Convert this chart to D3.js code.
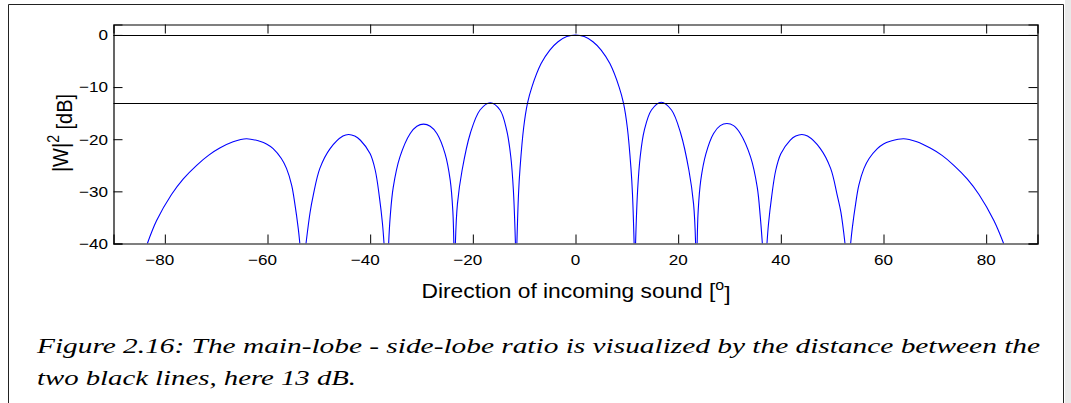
<!doctype html>
<html lang="en">
<head>
    <meta charset="UTF-8">
    <title>Main-lobe / side-lobe ratio</title>
    <script src="https://cdnjs.cloudflare.com/ajax/libs/d3/7.8.5/d3.min.js"></script>
    <style>
        html, body {
            margin: 0;
            padding: 0;
            background: #ffffff;
        }
        svg {
            display: block;
        }
        .tick-label {
            font-family: "Liberation Sans", Arial, Helvetica, sans-serif;
            font-size: 15px;
            fill: #000;
        }
        .axis-title {
            font-family: "Liberation Sans", Arial, Helvetica, sans-serif;
            font-size: 20px;
            fill: #000;
        }
        .caption {
            font-family: "Liberation Serif", "DejaVu Serif", serif;
            font-style: italic;
            font-size: 22px;
            fill: #000;
        }
    </style>
</head>
<body>

<svg id="chart" width="1071" height="403"></svg>

<script>

    // values (angle in degrees, |W|^2 in dB), null = break between lobes
    var angles = [
        -83.4, -81.6, -78.7, -76.4, -73.8, -71.5, -69.3, -66.7, -64.1, -61.5, -60.2, -58.9, -57.3, -56.3, -55.3, -54.7, -54.0, -53.7,
        null,
        -52.5, -51.7, -51.1, -49.8, -47.8, -45.3, -44.2, -43.0, -41.9, -40.0, -39.0, -38.2, -37.6, -37.3,
        null,
        -36.4, -36.1, -35.5, -34.2, -32.2, -30.9, -29.6, -28.3, -27.0, -25.4, -24.4, -23.9, -23.7,
        null,
        -23.4, -23.0, -22.1, -20.5, -18.6, -16.6, -14.7, -13.4, -12.6, -12.1, -11.7,
        null,
        -11.42, -11.1, -10.8, -10.1, -9.35, -8.5, -6.7, -5.0, -3.4, -1.7, 0, 1.7, 3.4, 5.0, 6.7, 8.5, 9.35, 10.1, 10.8, 11.1, 11.42,
        null,
        11.7, 12.1, 12.6, 13.4, 14.8, 16.7, 18.7, 20.5, 22.1, 23.0, 23.4,
        null,
        23.7, 23.9, 24.4, 25.4, 26.9, 28.2, 29.5, 30.8, 32.1, 34.1, 35.4, 36.0, 36.4,
        null,
        37.3, 37.6, 38.2, 39.0, 40.0, 41.8, 42.9, 44.1, 45.2, 47.7, 49.7, 51.0, 51.7, 52.5,
        null,
        53.6, 53.9, 54.6, 55.2, 56.2, 57.2, 58.8, 60.0, 61.3, 63.9, 66.5, 69.1, 71.4, 73.7, 76.3, 78.6, 81.5, 83.4
    ];

    var levels = [
        -40, -35.6, -30.6, -27.6, -25.0, -23.1, -21.7, -20.5, -19.9, -20.4, -20.9, -21.8, -23.7, -25.6, -28.8, -32.2, -37.2, -40,
        null,
        -40, -34.0, -30.8, -25.6, -21.8, -19.4, -19.1, -19.4, -20.2, -22.8, -26.0, -31.1, -36.2, -40,
        null,
        -40, -34.9, -29.2, -23.4, -18.9, -17.5, -17.1, -17.5, -18.9, -22.8, -27.9, -33.7, -40,
        null,
        -40, -32.4, -26.0, -18.9, -14.4, -13.0, -14.4, -18.3, -23.4, -29.8, -40,
        null,
        -40, -30.5, -25.5, -17.8, -13.1, -10.0, -5.5, -2.9, -1.3, -0.3, 0, -0.3, -1.3, -2.9, -5.5, -10.0, -13.1, -17.8, -25.5, -30.5, -40,
        null,
        -40, -29.8, -23.4, -18.3, -14.4, -12.9, -14.4, -18.9, -26.0, -32.4, -40,
        null,
        -40, -33.7, -27.9, -22.8, -18.9, -17.4, -17.0, -17.4, -18.9, -23.4, -29.2, -34.9, -40,
        null,
        -40, -36.2, -31.1, -26.0, -22.8, -20.2, -19.4, -19.1, -19.4, -21.8, -25.6, -30.8, -34.0, -40,
        null,
        -40, -37.2, -32.2, -28.8, -25.6, -23.7, -21.8, -20.9, -20.4, -19.9, -20.5, -21.7, -23.1, -25.0, -27.6, -30.6, -35.6, -40
    ];

    var xTicks = [-80, -60, -40, -20, 0, 20, 40, 60, 80];
    var yTicks = [-40, -30, -20, -10, 0];
    var refLines = [0, -13];      // main-lobe level and first side-lobe level

    var xTitle = 'Direction of incoming sound [';
    var xTitleSup = 'o';
    var yTitle = '|W|';
    var yTitleSup = '2';
    var yTitleUnit = ' [dB]';
    var caption = [
        'Figure 2.16: The main-lobe - side-lobe ratio is visualized by the distance between the',
        'two black lines, here 13 dB.'
    ];

    // the figure in the picture is stretched sideways a little
    var stretch = 1.14;

    var plotL = 113.5, plotR = 1037.5, plotT = 24.5, plotB = 243.5;

    var x = d3.scaleLinear().domain([-90, 90]).range([plotL, plotR]);
    var y = d3.scaleLinear().domain([-40, 2]).range([plotB, plotT]);

    var svg = d3.select('#chart');

    // page frame
    svg.append('rect')
            .attr('x', 1065).attr('y', 0)
            .attr('width', 6).attr('height', 403)
            .attr('fill', '#e9e9e9');

    svg.append('path')
            .attr('d', 'M8.5,410V4.5H1063.5V410')
            .attr('fill', 'none')
            .attr('stroke', '#222')
            .attr('stroke-width', 1);

    // clip for the curve
    svg.append('clipPath').attr('id', 'plot-clip')
            .append('rect')
            .attr('x', plotL).attr('y', plotT)
            .attr('width', plotR - plotL).attr('height', plotB - plotT);

    var points = angles.map(function (a, i) {
        return {a: a, db: levels[i]};
    });

    var line = d3.line()
            .defined(function (d) { return d.a !== null && d.db !== null; })
            .x(function (d) { return x(d.a); })
            .y(function (d) { return y(d.db); })
            .curve(d3.curveCatmullRom.alpha(0.5));

    svg.append('path')
            .datum(points)
            .attr('clip-path', 'url(#plot-clip)')
            .attr('d', line)
            .attr('fill', 'none')
            .attr('stroke', '#0000ff')
            .attr('stroke-width', 1.1);

    // the two black reference lines
    svg.selectAll('.ref')
            .data(refLines)
            .enter().append('line')
            .attr('class', 'ref')
            .attr('x1', plotL).attr('x2', plotR)
            .attr('y1', function (d) { return Math.round(y(d)) + 0.5; })
            .attr('y2', function (d) { return Math.round(y(d)) + 0.5; })
            .attr('stroke', '#000')
            .attr('stroke-width', 1);

    // axes: ticks on every side, pointing in
    var tickLen = 9;

    svg.append('g')
            .attr('transform', 'translate(0,' + plotB + ')')
            .call(d3.axisBottom(x).tickValues(xTicks).tickSize(-tickLen).tickFormat(''));
    svg.append('g')
            .attr('transform', 'translate(0,' + plotT + ')')
            .call(d3.axisTop(x).tickValues(xTicks).tickSize(-tickLen).tickFormat(''));
    svg.append('g')
            .attr('transform', 'translate(' + plotL + ',0)')
            .call(d3.axisLeft(y).tickValues(yTicks).tickSize(-tickLen).tickFormat(''));
    svg.append('g')
            .attr('transform', 'translate(' + plotR + ',0)')
            .call(d3.axisRight(y).tickValues(yTicks).tickSize(-tickLen).tickFormat(''));

    svg.selectAll('.domain')
            .attr('stroke', '#000')
            .attr('stroke-width', 1.2);
    svg.selectAll('.tick line')
            .attr('stroke', '#000')
            .attr('stroke-width', 1);

    // tick labels, digits centred on the tick with the minus hanging to the left
    var fmt = d3.format('d');

    var probe = svg.append('text').attr('class', 'tick-label').text('\u2212');
    var minusW = probe.node().getComputedTextLength();
    probe.remove();

    svg.selectAll('.xlab')
            .data(xTicks)
            .enter().append('text')
            .attr('class', 'tick-label')
            .attr('text-anchor', 'middle')
            .attr('transform', function (d) {
                var shift = d < 0 ? -minusW / 2 * stretch : 0;
                return 'translate(' + (x(d) + shift) + ',265) scale(' + stretch + ',1)';
            })
            .text(function (d) { return fmt(d); });

    svg.selectAll('.ylab')
            .data(yTicks)
            .enter().append('text')
            .attr('class', 'tick-label')
            .attr('text-anchor', 'end')
            .attr('transform', function (d) {
                return 'translate(108,' + (y(d) + 5.4) + ') scale(' + stretch + ',1)';
            })
            .text(function (d) { return fmt(d); });

    // axis titles
    var xt = svg.append('text')
            .attr('class', 'axis-title')
            .attr('text-anchor', 'middle')
            .attr('transform', 'translate(576,298) scale(' + stretch + ',1)');
    xt.append('tspan').text(xTitle);
    xt.append('tspan').attr('dy', '-0.55em').attr('font-size', '14px').text(xTitleSup);
    xt.append('tspan').attr('dy', '0.55em').text(']');

    var yt = svg.append('text')
            .attr('class', 'axis-title')
            .attr('text-anchor', 'middle')
            .attr('transform', 'translate(68,133) scale(' + stretch + ',1) rotate(-90)');
    yt.append('tspan').text(yTitle);
    yt.append('tspan').attr('dy', '-0.55em').attr('font-size', '14px').text(yTitleSup);
    yt.append('tspan').attr('dy', '0.55em').text(yTitleUnit);

    // caption
    svg.selectAll('.caption')
            .data(caption)
            .enter().append('text')
            .attr('class', 'caption')
            .attr('x', 37)
            .attr('y', function (d, i) { return 353 + i * 32; })
            .attr('textLength', function (d, i) { return i === 0 ? 1003 : 319; })
            .attr('lengthAdjust', 'spacingAndGlyphs')
            .text(function (d) { return d; });

</script>

</body>
</html>
